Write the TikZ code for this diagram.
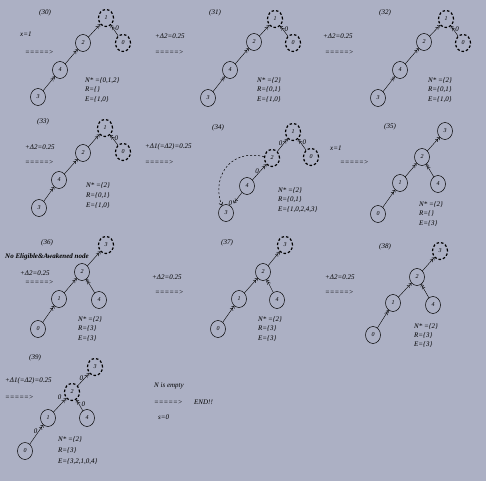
\documentclass[tikz,border=0pt]{standalone}
\usepackage{fontspec}
\setmainfont{Liberation Serif}
\usetikzlibrary{shapes.geometric,arrows.meta}
\definecolor{bg}{RGB}{172,176,196}
\newcommand\tfont{\itshape\fontsize{7}{7.5}\selectfont}
\newcommand\nfont{\itshape\fontsize{6}{6}\selectfont}
\tikzset{
  vs/.style={ellipse,draw,line width=0.5pt,minimum width=15pt,minimum height=17pt,inner sep=0pt,font=\nfont},
  vd/.style={vs,line width=1.2pt,dash pattern=on 2.5pt off 2pt},
  arr/.style={draw,line width=0.4pt,-{Straight Barb[length=2pt,width=3.5pt]Straight Barb[length=2pt,width=3.5pt]}},
  dcurve/.style={draw,line width=0.5pt,dash pattern=on 2pt off 2pt,-{Straight Barb[length=2.5pt,width=4pt]}},
  lab/.style={font=\tfont,inner sep=0.5pt},
  txt/.style={font=\tfont,anchor=west,inner sep=0pt},
  ttl/.style={font=\tfont,inner sep=0pt}
}
\begin{document}
\begin{tikzpicture}[x=1pt,y=-1pt]
\fill[bg] (0,0) rectangle (486,481);
\useasboundingbox (0,0) rectangle (486,481);

% ---------- (30)
\node[ttl] (t30) at (45,13) {(30)};
\node[txt] (s30a) at (20,34) {x=1};
\node[txt] (s30b) at (25,52) {=====>};
\node[vd] (p30n1) at (106,18) {1};
\node[vd] (p30n0) at (123,43) {0};
\node[vs] (p30n2) at (83,43) {2};
\node[vs] (p30n4) at (60,70) {4};
\node[vs] (p30n3) at (38,97) {3};
\draw[arr] (p30n3) -- (p30n4);
\draw[arr] (p30n4) -- (p30n2);
\draw[arr] (p30n2) -- (p30n1);
\draw[arr] (p30n0) -- node[lab,pos=0.7,right=1.5pt] {0} (p30n1);
\node[txt] (q30a) at (85,81) {N* =\{0,1,2\}};
\node[txt] (q30b) at (85,90) {R=\{\}};
\node[txt] (q30c) at (85,100) {E=\{1,0\}};

% ---------- (31)
\node[ttl] (t31) at (215,13) {(31)};
\node[txt] (s31a) at (155,36) {+Δ2=0.25};
\node[txt] (s31b) at (155,52) {=====>};
\node[vd] (p31n1) at (275,19) {1};
\node[vd] (p31n0) at (293,43) {0};
\node[vs] (p31n2) at (254,42) {2};
\node[vs] (p31n4) at (230,70) {4};
\node[vs] (p31n3) at (208,98) {3};
\draw[arr] (p31n3) -- (p31n4);
\draw[arr] (p31n4) -- (p31n2);
\draw[arr] (p31n2) -- (p31n1);
\draw[arr] (p31n0) -- node[lab,pos=0.7,right=1.5pt] {0} (p31n1);
\node[txt] (q31a) at (257,81) {N* =\{2\}};
\node[txt] (q31b) at (257,90) {R=\{0,1\}};
\node[txt] (q31c) at (257,100) {E=\{1,0\}};

% ---------- (32)
\node[ttl] (t32) at (385,13) {(32)};
\node[txt] (s32a) at (323,36) {+Δ2=0.25};
\node[txt] (s32b) at (325,52) {=====>};
\node[vd] (p32n1) at (446,19) {1};
\node[vd] (p32n0) at (463,43) {0};
\node[vs] (p32n2) at (424,42) {2};
\node[vs] (p32n4) at (400,70) {4};
\node[vs] (p32n3) at (378,98) {3};
\draw[arr] (p32n3) -- (p32n4);
\draw[arr] (p32n4) -- (p32n2);
\draw[arr] (p32n2) -- (p32n1);
\draw[arr] (p32n0) -- node[lab,pos=0.7,right=1.5pt] {0} (p32n1);
\node[txt] (q32a) at (428,81) {N* =\{2\}};
\node[txt] (q32b) at (428,90) {R=\{0,1\}};
\node[txt] (q32c) at (428,100) {E=\{1,0\}};

% ---------- (33)
\node[ttl] (t33) at (43,122) {(33)};
\node[txt] (s33a) at (25,147) {+Δ2=0.25};
\node[txt] (s33b) at (25,162) {=====>};
\node[vd] (p33n1) at (105,128) {1};
\node[vd] (p33n0) at (123,152) {0};
\node[vs] (p33n2) at (83,153) {2};
\node[vs] (p33n4) at (59,180) {4};
\node[vs] (p33n3) at (39,208) {3};
\draw[arr] (p33n3) -- (p33n4);
\draw[arr] (p33n4) -- (p33n2);
\draw[arr] (p33n2) -- (p33n1);
\draw[arr] (p33n0) -- node[lab,pos=0.7,right=1.5pt] {0} (p33n1);
\node[txt] (q33a) at (86,186) {N* =\{2\}};
\node[txt] (q33b) at (86,196) {R=\{0,1\}};
\node[txt] (q33c) at (86,206) {E=\{1,0\}};

% ---------- (34)
\node[ttl] (t34) at (218,128) {(34)};
\node[txt] (s34a) at (145,147) {+Δ1(=Δ2)=0.25};
\node[txt] (s34b) at (145,162) {=====>};
\node[vd] (p34n1) at (293,132) {1};
\node[vd] (p34n0) at (311,157) {0};
\node[vd] (p34n2) at (272,158) {2};
\node[vs] (p34n4) at (247,186) {4};
\node[vs] (p34n3) at (226,213) {3};
\draw[arr,shorten >=4pt] (p34n4) -- node[lab,pos=0.75,left=1pt] {0} (p34n3);
\draw[arr] (p34n4) -- node[lab,pos=0.45,above left=-1pt] {0} (p34n2);
\draw[arr] (p34n2) -- node[lab,pos=0.45,above left=-1pt] {0} (p34n1);
\draw[arr] (p34n0) -- node[lab,pos=0.7,right=1.5pt] {0} (p34n1);
\draw[dcurve] (p34n2.170) .. controls (226,148) and (212,182) .. (p34n3.118);
\node[txt] (q34a) at (278,191) {N* =\{2\}};
\node[txt] (q34b) at (278,200) {R=\{0,1\}};
\node[txt] (q34c) at (278,210) {E=\{1,0,2,4,3\}};

% ---------- (35)
\node[ttl] (t35) at (390,127) {(35)};
\node[txt] (s35a) at (330,148) {x=1};
\node[txt] (s35b) at (340,162) {=====>};
\node[vs] (p35n3) at (445,131) {3};
\node[vs] (p35n2) at (422,157) {2};
\node[vs] (p35n1) at (400,183) {1};
\node[vs] (p35n4) at (438,184) {4};
\node[vs] (p35n0) at (378,214) {0};
\draw[arr] (p35n0) -- (p35n1);
\draw[arr] (p35n1) -- (p35n2);
\draw[arr] (p35n4) -- (p35n2);
\draw[arr] (p35n2) -- (p35n3);
\node[txt] (q35a) at (419,205) {N* =\{2\}};
\node[txt] (q35b) at (419,214) {R=\{\}};
\node[txt] (q35c) at (419,224) {E=\{3\}};

% ---------- (36)
\node[ttl] (t36) at (47,243) {(36)};
\node[txt,font=\bfseries\itshape\fontsize{7}{7}\selectfont] (s36n) at (5,257) {No Eligible\&Awakened node};
\node[txt] (s36a) at (20,273) {+Δ2=0.25};
\node[txt] (s36b) at (25,282) {=====>};
\node[vd] (p36n3) at (106,245) {3};
\node[vs] (p36n2) at (82,272) {2};
\node[vs] (p36n1) at (59,299) {1};
\node[vs] (p36n4) at (99,300) {4};
\node[vs] (p36n0) at (38,329) {0};
\draw[arr] (p36n0) -- (p36n1);
\draw[arr] (p36n1) -- (p36n2);
\draw[arr] (p36n4) -- (p36n2);
\draw[arr] (p36n2) -- (p36n3);
\node[txt] (q36a) at (78,320) {N* =\{2\}};
\node[txt] (q36b) at (78,329) {R=\{3\}};
\node[txt] (q36c) at (78,339) {E=\{3\}};

% ---------- (37)
\node[ttl] (t37) at (227,243) {(37)};
\node[txt] (s37a) at (152,277) {+Δ2=0.25};
\node[txt] (s37b) at (155,292) {=====>};
\node[vd] (p37n3) at (285,245) {3};
\node[vs] (p37n2) at (263,272) {2};
\node[vs] (p37n1) at (239,299) {1};
\node[vs] (p37n4) at (277,300) {4};
\node[vs] (p37n0) at (218,329) {0};
\draw[arr] (p37n0) -- (p37n1);
\draw[arr] (p37n1) -- (p37n2);
\draw[arr] (p37n4) -- (p37n2);
\draw[arr] (p37n2) -- (p37n3);
\node[txt] (q37a) at (258,320) {N* =\{2\}};
\node[txt] (q37b) at (258,329) {R=\{3\}};
\node[txt] (q37c) at (258,339) {E=\{3\}};

% ---------- (38)
\node[ttl] (t38) at (385,247) {(38)};
\node[txt] (s38a) at (325,277) {+Δ2=0.25};
\node[txt] (s38b) at (325,292) {=====>};
\node[vd] (p38n3) at (440,251) {3};
\node[vs] (p38n2) at (417,277) {2};
\node[vs] (p38n1) at (393,303) {1};
\node[vs] (p38n4) at (433,305) {4};
\node[vs] (p38n0) at (373,335) {0};
\draw[arr] (p38n0) -- (p38n1);
\draw[arr] (p38n1) -- (p38n2);
\draw[arr] (p38n4) -- (p38n2);
\draw[arr] (p38n2) -- (p38n3);
\node[txt] (q38a) at (414,327) {N* =\{2\}};
\node[txt] (q38b) at (414,336) {R=\{3\}};
\node[txt] (q38c) at (414,345) {E=\{3\}};

% ---------- (39)
\node[ttl] (t39) at (35,358) {(39)};
\node[txt] (s39a) at (5,381) {+Δ1(=Δ2)=0.25};
\node[txt] (s39b) at (5,397) {=====>};
\node[vd] (p39n3) at (95,367) {3};
\node[vd] (p39n2) at (72,392) {2};
\node[vs] (p39n1) at (48,418) {1};
\node[vs] (p39n4) at (87,418) {4};
\node[vs] (p39n0) at (25,451) {0};
\draw[arr] (p39n0) -- node[lab,pos=0.55,above left=-1pt] {0} (p39n1);
\draw[arr] (p39n1) -- node[lab,pos=0.75,above left=1pt] {0} (p39n2);
\draw[arr] (p39n4) -- node[lab,pos=0.6,right=2pt] {0} (p39n2);
\draw[arr] (p39n2) -- node[lab,pos=0.45,above left=-1pt] {0} (p39n3);
\node[txt] (q39a) at (58,440) {N* =\{2\}};
\node[txt] (q39b) at (58,451) {R=\{3\}};
\node[txt] (q39c) at (58,462) {E=\{3,2,1,0,4\}};

% ---------- end
\node[txt] (e1) at (154,386) {N is empty};
\node[txt] (e2) at (154,402) {=====>};
\node[txt] (e3) at (194,402) {END!!};
\node[txt] (e4) at (158,417) {s=0};
\end{tikzpicture}
\end{document}
